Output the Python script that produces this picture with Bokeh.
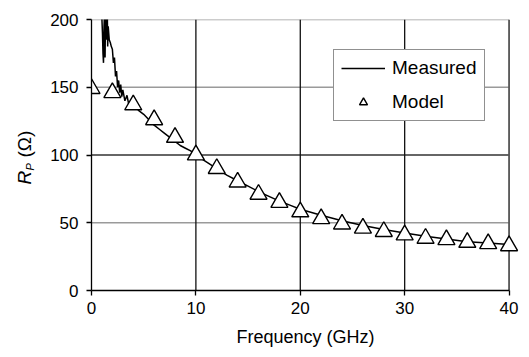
import math

from bokeh.embed import file_html
from bokeh.layouts import row
from bokeh.models import FixedTicker, Label, Legend, LegendItem
from bokeh.plotting import figure
from bokeh.resources import INLINE

# Measured parallel resistance vs frequency (GHz, ohm)
meas_freq = [0.95, 1.0, 1.05, 1.1, 1.15, 1.2, 1.25, 1.3, 1.35, 1.4, 1.45, 1.5,
             1.55, 1.6, 1.7, 1.8, 1.9, 2.0, 2.1, 2.2, 2.3, 2.4, 2.5, 2.6, 2.7,
             2.8, 2.9, 3.0, 3.2, 3.4, 3.6, 3.8, 4.0, 4.2, 4.5, 5.0, 5.5, 6.0,
             6.5, 7.0, 7.5, 8.0, 8.5, 9.0, 9.5, 10, 11, 12, 13, 14, 15, 16, 17,
             18, 19, 20, 22, 24, 26, 28, 30, 32, 34, 36, 38, 40]
meas_rp = [215, 200, 190, 175, 168, 195, 205, 172, 210, 185, 200, 215,
           180, 195, 185, 183, 180, 178, 168, 172, 158, 162, 150, 155, 146,
           152, 143, 148, 140, 144, 136, 139, 134, 136, 133, 130, 126, 122,
           119, 116, 113, 110, 107, 105, 103, 100, 95, 90, 85, 81, 77, 73, 69.5,
           66, 63, 60, 55.5, 51.5, 48, 45, 42.5, 40, 38, 36, 35, 34]

# Model values every 2 GHz
model_freq = [0, 2, 4, 6, 8, 10, 12, 14, 16, 18, 20, 22, 24, 26, 28, 30, 32,
              34, 36, 38, 40]
model_rp = [149, 146, 137, 126, 113, 100, 90, 80, 71, 65, 58, 53, 49, 46,
            43.5, 41, 38.5, 37.5, 35.5, 34.5, 33]

x_ticks = [0, 10, 20, 30, 40]
y_ticks = [0, 50, 100, 150, 200]

FONT = "Liberation Sans"
x_lo, x_hi = x_ticks[0], x_ticks[-1]
y_lo, y_hi = y_ticks[0], y_ticks[-1]
BORDER_TOP, BORDER_BOTTOM = 19, 67

# Narrow strip on the left carrying the rotated y-axis title R_P (Ω);
# its frame is kept level with the main plot's frame
ytitle = figure(width=46, height=357, x_range=(0, 1), y_range=(y_lo, y_hi),
                output_backend="svg", toolbar_location=None,
                x_axis_location=None, y_axis_location=None,
                min_border_left=0, min_border_right=0,
                min_border_top=BORDER_TOP, min_border_bottom=BORDER_BOTTOM)
ytitle.outline_line_color = None
ytitle.xgrid.visible = False
ytitle.ygrid.visible = False
ytitle.background_fill_color = "white"
ytitle.border_fill_color = "white"

title_x = 24
pieces = [("R", "19px", "italic", 0, 106),
          ("P", "11px", "italic", 5, 120),
          ("(Ω)", "19px", "normal", 0, 133)]
for text, size, style, dx, y in pieces:
    ytitle.add_layout(Label(x=title_x + dx, y=y, x_units="screen",
                            y_units="screen", text=text, angle=math.pi / 2,
                            text_font=FONT, text_font_size=size,
                            text_font_style=style, text_align="left",
                            text_baseline="middle", text_color="black"))

# Main plot; a little room on the right so the 40 GHz marker is drawn whole
p = figure(width=483, height=357, x_range=(x_lo, x_hi + 1),
           y_range=(y_lo, y_hi), output_backend="svg", toolbar_location=None,
           min_border_left=45, min_border_right=10, min_border_top=BORDER_TOP,
           min_border_bottom=BORDER_BOTTOM)
p.background_fill_color = "white"
p.border_fill_color = "white"
p.outline_line_color = None
p.xgrid.visible = False
p.ygrid.visible = False

# Gridlines and border, spanning only the 0-40 GHz area
h_light = [y for y in y_ticks[1:] if y != 100]
p.segment(x0=[x_lo] * len(h_light), x1=[x_hi] * len(h_light),
          y0=h_light, y1=h_light, line_color="#9a9a9a", line_width=1.4)
p.segment(x0=[x_lo], x1=[x_hi], y0=[100], y1=[100],
          line_color="#333333", line_width=1.4)
v_dark = x_ticks[1:-1]
p.segment(x0=v_dark, x1=v_dark, y0=[y_lo] * len(v_dark),
          y1=[y_hi] * len(v_dark), line_color="#111111", line_width=1.3)
p.segment(x0=[x_hi], x1=[x_hi], y0=[y_lo], y1=[y_hi],
          line_color="#555555", line_width=1.8)

for ax in (p.xaxis, p.yaxis):
    ax.axis_line_color = "black"
    ax.axis_line_width = 1.3
    ax.major_tick_line_color = "black"
    ax.major_tick_line_width = 1.3
    ax.major_tick_out = 5
    ax.major_tick_in = 0
    ax.minor_tick_line_color = None
    ax.major_label_text_font = FONT
    ax.major_label_text_font_size = "17px"
    ax.major_label_text_color = "black"

p.xaxis.ticker = FixedTicker(ticks=x_ticks)
p.yaxis.ticker = FixedTicker(ticks=y_ticks)
p.xaxis.bounds = (x_lo, x_hi)
p.xaxis.major_label_standoff = 6
p.yaxis.major_label_standoff = 8

p.xaxis.axis_label = "Frequency (GHz)"
p.xaxis.axis_label_text_font = FONT
p.xaxis.axis_label_text_font_size = "18px"
p.xaxis.axis_label_text_font_style = "normal"
p.xaxis.axis_label_text_color = "black"
p.xaxis.axis_label_standoff = 10

line = p.line(meas_freq, meas_rp, line_color="black", line_width=1.5)
tri = p.scatter(model_freq, model_rp, marker="triangle", size=17,
                fill_color="white", line_color="black", line_width=1.4)

legend = Legend(items=[LegendItem(label="Measured", renderers=[line]),
                       LegendItem(label="Model", renderers=[tri])],
                location=(242, 169))
legend.label_text_font = FONT
legend.label_text_font_size = "19px"
legend.label_text_color = "black"
legend.border_line_color = "#222222"
legend.border_line_width = 1.3
legend.background_fill_color = "white"
legend.background_fill_alpha = 1.0
legend.glyph_width = 44
legend.glyph_height = 20
legend.label_height = 20
legend.label_standoff = 7
legend.spacing = 12
legend.padding = 7
legend.margin = 0
p.add_layout(legend)

layout = row(ytitle, p, spacing=0)
open("out.html", "w").write(file_html(layout, INLINE))
